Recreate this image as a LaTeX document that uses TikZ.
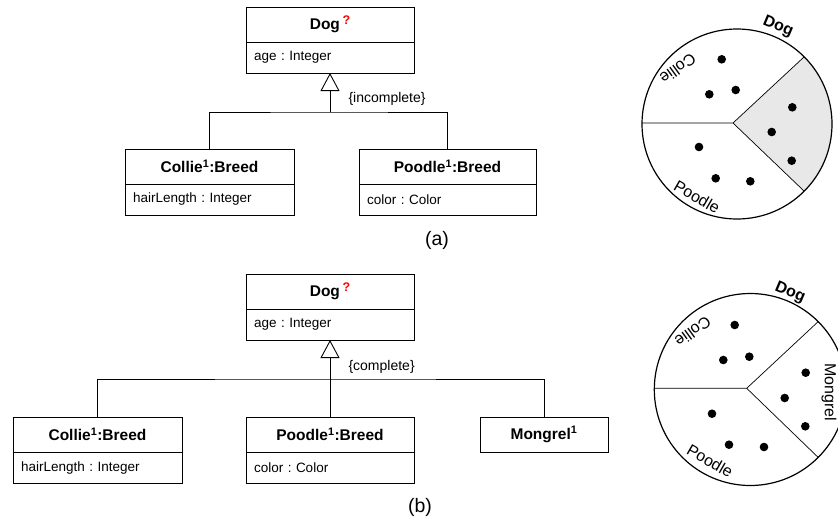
\documentclass[tikz,border=0pt]{standalone}
\usepackage{fontspec}
\setmainfont{Liberation Sans}
\usetikzlibrary{positioning,arrows.meta}
\frenchspacing
\newcommand{\unsure}{\,\raisebox{5pt}{\fontsize{12.5}{12}\selectfont\textcolor{red}{?}}}

\begin{document}
\begin{tikzpicture}[x=1pt,y=-1pt,
    classname/.style={draw, line width=0.8pt, minimum width=#1, minimum height=35pt, inner sep=0pt, outer sep=0pt, font=\bfseries\fontsize{15.5}{18}\selectfont},
    attrs/.style={draw, line width=0.8pt, text width=#1, minimum height=31pt, inner xsep=8pt, inner ysep=0pt, outer sep=0pt, align=left, font=\fontsize{13.5}{16}\selectfont},
    link/.style={line width=1pt},
    gen/.style={line width=1pt, -{Triangle[open, length=18pt, width=19pt, line width=0.9pt]}},
    caption/.style={font=\fontsize{19.5}{22}\selectfont},
    setname/.style={font=\fontsize{16}{18}\selectfont}]
    \useasboundingbox (0,0) rectangle (838,523);
    \clip (0,0) rectangle (838,523);

    % Define the positions of the nodes (a)
    \node[classname=168pt, anchor=north west] (dogA) at (246,7) {Dog\unsure};
    \node[attrs=152pt, below=0pt of dogA] (dogAttrA) {age : Integer};

    \node[classname=169pt, anchor=north west] (collieA) at (125,149) {Collie\textsuperscript{1}:Breed};
    \node[attrs=153pt, below=0pt of collieA] (collieAttrA) {hairLength : Integer};

    \node[classname=177pt, anchor=north west] (poodleA) at (359,149) {Poodle\textsuperscript{1}:Breed};
    \node[attrs=161pt, below=0pt of poodleA] (poodleAttrA) {color : Color};

    \coordinate (barA) at (330,112);
    \node[anchor=west, font=\fontsize{14}{16}\selectfont] (kindA) at (345,99) {\{incomplete\}};
    \node[caption] (capA) at (437,240) {(a)};

    % Draw the edges (a)
    \draw[link] (collieA.north) |- (barA) -| (poodleA.north);
    \draw[gen] (barA) -- (dogAttrA.south);

    % Define the positions of the nodes (b)
    \node[classname=168pt, anchor=north west] (dogB) at (246,274) {Dog\unsure};
    \node[attrs=152pt, below=0pt of dogB] (dogAttrB) {age : Integer};

    \node[classname=169pt, anchor=north west] (collieB) at (13,417) {Collie\textsuperscript{1}:Breed};
    \node[attrs=153pt, below=0pt of collieB] (collieAttrB) {hairLength : Integer};

    \node[classname=168pt, anchor=north west] (poodleB) at (246,417) {Poodle\textsuperscript{1}:Breed};
    \node[attrs=152pt, below=0pt of poodleB] (poodleAttrB) {color : Color};

    \node[classname=128pt, anchor=north west] (mongrel) at (480,417) {Mongrel\textsuperscript{1}};

    \coordinate (barB) at (330,379);
    \node[anchor=west, font=\fontsize{14}{16}\selectfont] (kindB) at (345,366.5) {\{complete\}};
    \node[caption] (capB) at (420,507) {(b)};

    % Draw the edges (b)
    \draw[link] (collieB.north) |- (barB) -| (mongrel.north);
    \draw[gen] (poodleB.north) -- (dogAttrB.south);

    % sets (a)
    \fill[black!9] (733,123) -- (804.2,56.8) arc[start angle=45, end angle=-45, radius=95pt] -- cycle;
    \draw[line width=0.7pt] (642,123) -- (733,123) -- (804.2,56.8) (733,123) -- (804.2,191.2);
    \draw[line width=1.2pt] (737,124) circle[radius=95pt];
    \foreach \x/\y in {721.7/59.3, 709.3/94.3, 735.7/90, 792.3/107.3, 771.7/132, 791.7/160.7, 699/147, 715.7/178.3, 750.3/181.3}
        \fill (\x,\y) circle[radius=4.3pt];
    \node[setname, font=\bfseries\fontsize{16}{18}\selectfont, rotate=-23] (dogSetA) at (778,27) {Dog};
    \node[setname, rotate=-144] (collieSetA) at (678,69) {Collie};
    \node[setname, rotate=-30] (poodleSetA) at (697,197) {Poodle};

    % sets (b)
    \draw[line width=0.7pt] (654.3,388.3) -- (746.7,388.3) -- (818.2,321.6) (746.7,388.3) -- (818.2,457.4);
    \draw[line width=1.2pt] (750.3,389.5) circle[radius=96pt];
    \foreach \x/\y in {734.7/325, 723.3/360, 749.3/356.7, 805.7/372.7, 784.7/398, 805.3/426.3, 712/413.7, 729/444.7, 764/447}
        \fill (\x,\y) circle[radius=4.3pt];
    \node[setname, font=\bfseries\fontsize{16}{18}\selectfont, rotate=-23] (dogSetB) at (790,293) {Dog};
    \node[setname, rotate=-144] (collieSetB) at (693,332) {Collie};
    \node[setname, rotate=-30] (poodleSetB) at (710,461) {Poodle};
    \node[setname, rotate=-90] (mongrelSet) at (829,392) {Mongrel};
\end{tikzpicture}
\end{document}
